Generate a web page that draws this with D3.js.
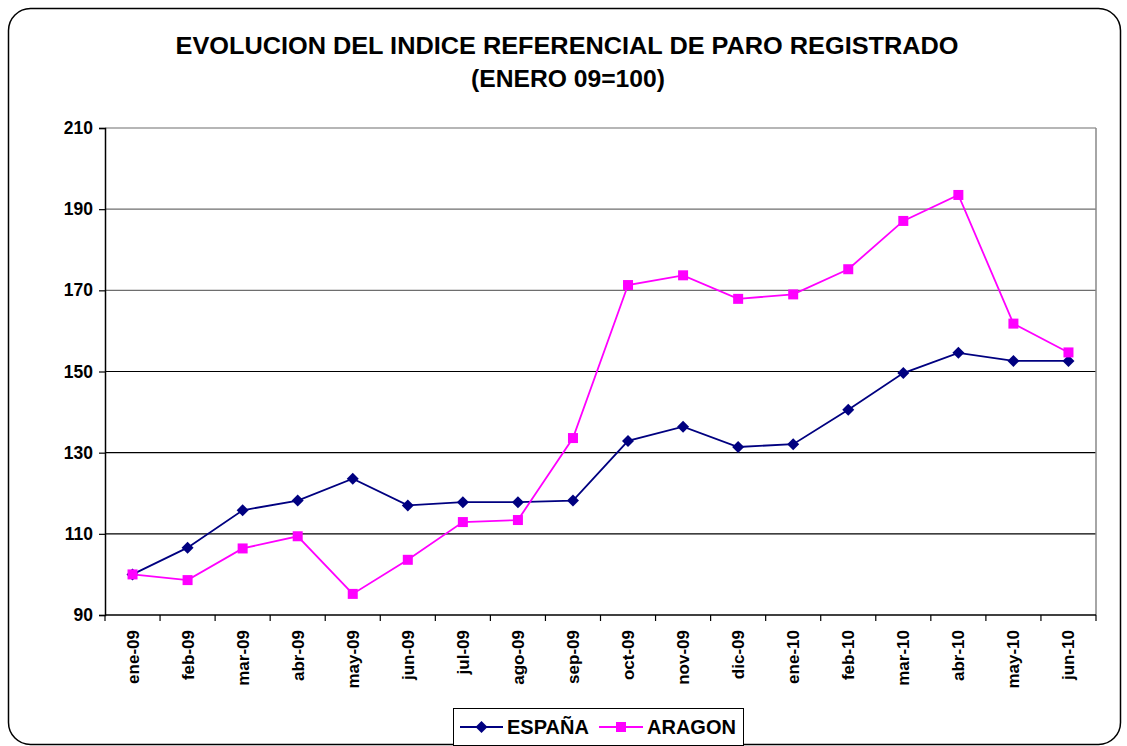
<!DOCTYPE html>
<html>
<head>
<meta charset="utf-8">
<script src="https://cdn.jsdelivr.net/npm/d3@7"></script>
<style>
  body { margin: 0; background: #fff; }
  text { font-family: Arial, "Liberation Sans", sans-serif; font-weight: bold; fill: #000; }
</style>
</head>
<body>
<svg id="chart" width="1127" height="746"></svg>
<script>
// Monthly categories
const months = ["ene-09","feb-09","mar-09","abr-09","may-09","jun-09","jul-09","ago-09","sep-09",
                "oct-09","nov-09","dic-09","ene-10","feb-10","mar-10","abr-10","may-10","jun-10"];
// Index values (January 2009 = 100)
const espana = [100.0,106.6,115.8,118.2,123.6,117.0,117.8,117.8,118.2,
                132.9,136.4,131.4,132.1,140.6,149.6,154.6,152.6,152.6];
const aragon = [100.0,98.6,106.4,109.4,95.2,103.6,112.9,113.4,133.6,
                171.3,173.7,167.9,169.0,175.2,187.1,193.5,161.8,154.7];
const yTicks = [90,110,130,150,170,190,210];
const titleLines = ["EVOLUCION DEL INDICE REFERENCIAL DE PARO REGISTRADO", "(ENERO 09=100)"];
const yTitle = "VALOR DEL INDICE (%";
const seriesNames = ["ESPAÑA", "ARAGON"];

const svg = d3.select("#chart");
const plot = { left: 105, right: 1096, top: 128, bottom: 615 };

// Outer rounded frame
svg.append("rect")
  .attr("x", 8.5).attr("y", 8.5).attr("width", 1112).attr("height", 736)
  .attr("rx", 22).attr("ry", 22)
  .attr("fill", "#fff").attr("stroke", "#000").attr("stroke-width", 1.5);

// Title
svg.append("text").attr("x", 567).attr("y", 54).attr("text-anchor", "middle")
  .style("font-size", "24px").attr("textLength", 783).attr("lengthAdjust", "spacingAndGlyphs")
  .text(titleLines[0]);
svg.append("text").attr("x", 568).attr("y", 87).attr("text-anchor", "middle")
  .style("font-size", "24px").attr("textLength", 194).attr("lengthAdjust", "spacingAndGlyphs")
  .text(titleLines[1]);

const x = d3.scaleBand().domain(months).range([plot.left, plot.right]).paddingInner(0).paddingOuter(0);
const y = d3.scaleLinear().domain([90, 210]).range([plot.bottom, plot.top]);
const cx = m => x(m) + x.bandwidth() / 2;

// Horizontal gridlines
svg.append("g").selectAll("line").data(yTicks.filter(t => t > 90)).join("line")
  .attr("x1", plot.left).attr("x2", plot.right)
  .attr("y1", d => y(d)).attr("y2", d => y(d))
  .attr("stroke", d => d >= 170 ? "#6e6e6e" : "#000").attr("stroke-width", 1.2);

// Right border of the plot area
svg.append("line").attr("x1", plot.right).attr("x2", plot.right)
  .attr("y1", plot.top).attr("y2", plot.bottom).attr("stroke", "#888").attr("stroke-width", 1.5);

// Y axis
const yAxis = d3.axisLeft(y).tickValues(yTicks).tickSize(6).tickPadding(6);
const gy = svg.append("g").attr("transform", `translate(${plot.left},0)`).call(yAxis);
gy.select(".domain").attr("stroke", "#000").attr("stroke-width", 1.5);
gy.selectAll(".tick line").attr("stroke", "#000").attr("stroke-width", 1.2);
gy.selectAll(".tick text").style("font-size", "17.5px").style("font-family", "Arial, 'Liberation Sans', sans-serif")
  .style("font-weight", "bold").attr("fill", "#000");

// X axis: tick marks sit on category boundaries
const gx = svg.append("g");
gx.append("line").attr("x1", plot.left).attr("x2", plot.right)
  .attr("y1", plot.bottom).attr("y2", plot.bottom).attr("stroke", "#000").attr("stroke-width", 1.5);
const bounds = months.map(m => x(m)).concat([plot.right]);
gx.selectAll("line.tk").data(bounds).join("line").attr("class", "tk")
  .attr("x1", d => d).attr("x2", d => d)
  .attr("y1", plot.bottom).attr("y2", plot.bottom + 6)
  .attr("stroke", "#000").attr("stroke-width", 1.2);
gx.selectAll("text").data(months).join("text")
  .attr("transform", d => `translate(${cx(d) + 6},${plot.bottom + 15}) rotate(-90)`)
  .attr("text-anchor", "end")
  .style("font-size", "17px")
  .text(d => d);

// Y axis title, clipped at its top end
svg.append("clipPath").attr("id", "ytclip").append("rect")
  .attr("x", 0).attr("y", 276).attr("width", 60).attr("height", 220);
svg.append("text")
  .attr("clip-path", "url(#ytclip)")
  .attr("transform", "translate(32,476) rotate(-90)")
  .attr("text-anchor", "start")
  .style("font-size", "18px")
  .text(yTitle);

// Series
const series = [
  { name: seriesNames[0], values: espana, color: "#000080", marker: "diamond" },
  { name: seriesNames[1], values: aragon, color: "#FF00FF", marker: "square" }
];
const lineGen = d3.line().x((d, i) => cx(months[i])).y(d => y(d));

function drawMarker(g, type, color, px, py) {
  if (type === "diamond") {
    g.append("path").attr("d", `M${px},${py - 6}L${px + 6},${py}L${px},${py + 6}L${px - 6},${py}Z`)
      .attr("fill", color);
  } else {
    g.append("rect").attr("x", px - 5).attr("y", py - 5).attr("width", 10).attr("height", 10)
      .attr("fill", color);
  }
}

series.forEach(s => {
  const g = svg.append("g");
  g.append("path").datum(s.values).attr("d", lineGen)
    .attr("fill", "none").attr("stroke", s.color).attr("stroke-width", 1.8);
  s.values.forEach((v, i) => drawMarker(g, s.marker, s.color, cx(months[i]), y(v)));
});

// Legend
const lg = svg.append("g");
lg.append("rect").attr("x", 453.5).attr("y", 708.5).attr("width", 290).attr("height", 37)
  .attr("fill", "#fff").attr("stroke", "#000").attr("stroke-width", 1);
const legendItems = [
  { s: series[0], x0: 460, x1: 503, tx: 507 },
  { s: series[1], x0: 599, x1: 643, tx: 647 }
];
legendItems.forEach(it => {
  const ly = 727;
  lg.append("line").attr("x1", it.x0).attr("x2", it.x1).attr("y1", ly).attr("y2", ly)
    .attr("stroke", it.s.color).attr("stroke-width", 1.8);
  drawMarker(lg, it.s.marker, it.s.color, (it.x0 + it.x1) / 2, ly);
  lg.append("text").attr("x", it.tx).attr("y", ly + 7).style("font-size", "20px").text(it.s.name);
});
</script>
</body>
</html>
